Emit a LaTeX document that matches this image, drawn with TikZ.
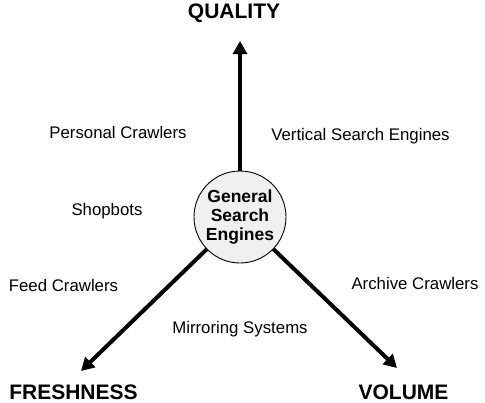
\documentclass[tikz,border=0pt]{standalone}
\usepackage{fontspec}
\setmainfont{Liberation Sans}
\usetikzlibrary{arrows.meta}
\begin{document}
\begin{tikzpicture}[x=1pt,y=-1pt,
  axislabel/.style={font=\fontsize{21}{24}\selectfont\bfseries, inner sep=0pt, anchor=base},
  crawler/.style={font=\fontsize{16.8}{19}\selectfont, inner sep=0pt, anchor=base},
  hub/.style={circle, draw=black, line width=0.9pt, fill=gray!12, minimum size=92pt, inner sep=0pt,
    align=center, font=\fontsize{17.5}{19}\selectfont\bfseries},
  axis/.style={line width=4pt, -{Triangle[length=13pt,width=14pt]}}
]
\useasboundingbox (0,0) rectangle (485,402);

% central node
\node[hub] (core) at (240,217) {General\\Search\\Engines};

% arrow tips
\coordinate (qtip) at (240,41);
\coordinate (ftip) at (81,371);
\coordinate (vtip) at (397,368);

% the three axes start on the rim of the central circle
\draw[axis] (core) -- (qtip);
\draw[axis] (core) -- (ftip);
\draw[axis] (core) -- (vtip);

% axis labels
\node[axislabel] (quality) at (234,18.5) {QUALITY};
\node[axislabel] (freshness) at (73.5,399.5) {FRESHNESS};
\node[axislabel] (volume) at (403.5,399.5) {VOLUME};

% crawler categories
\node[crawler] (personal) at (118,138) {Personal Crawlers};
\node[crawler] (vertical) at (360.5,140.5) {Vertical Search Engines};
\node[crawler] (shopbots) at (107,215.5) {Shopbots};
\node[crawler] (feed) at (63.5,291) {Feed Crawlers};
\node[crawler] (archive) at (415,289) {Archive Crawlers};
\node[crawler] (mirror) at (240,333) {Mirroring Systems};
\end{tikzpicture}
\end{document}
